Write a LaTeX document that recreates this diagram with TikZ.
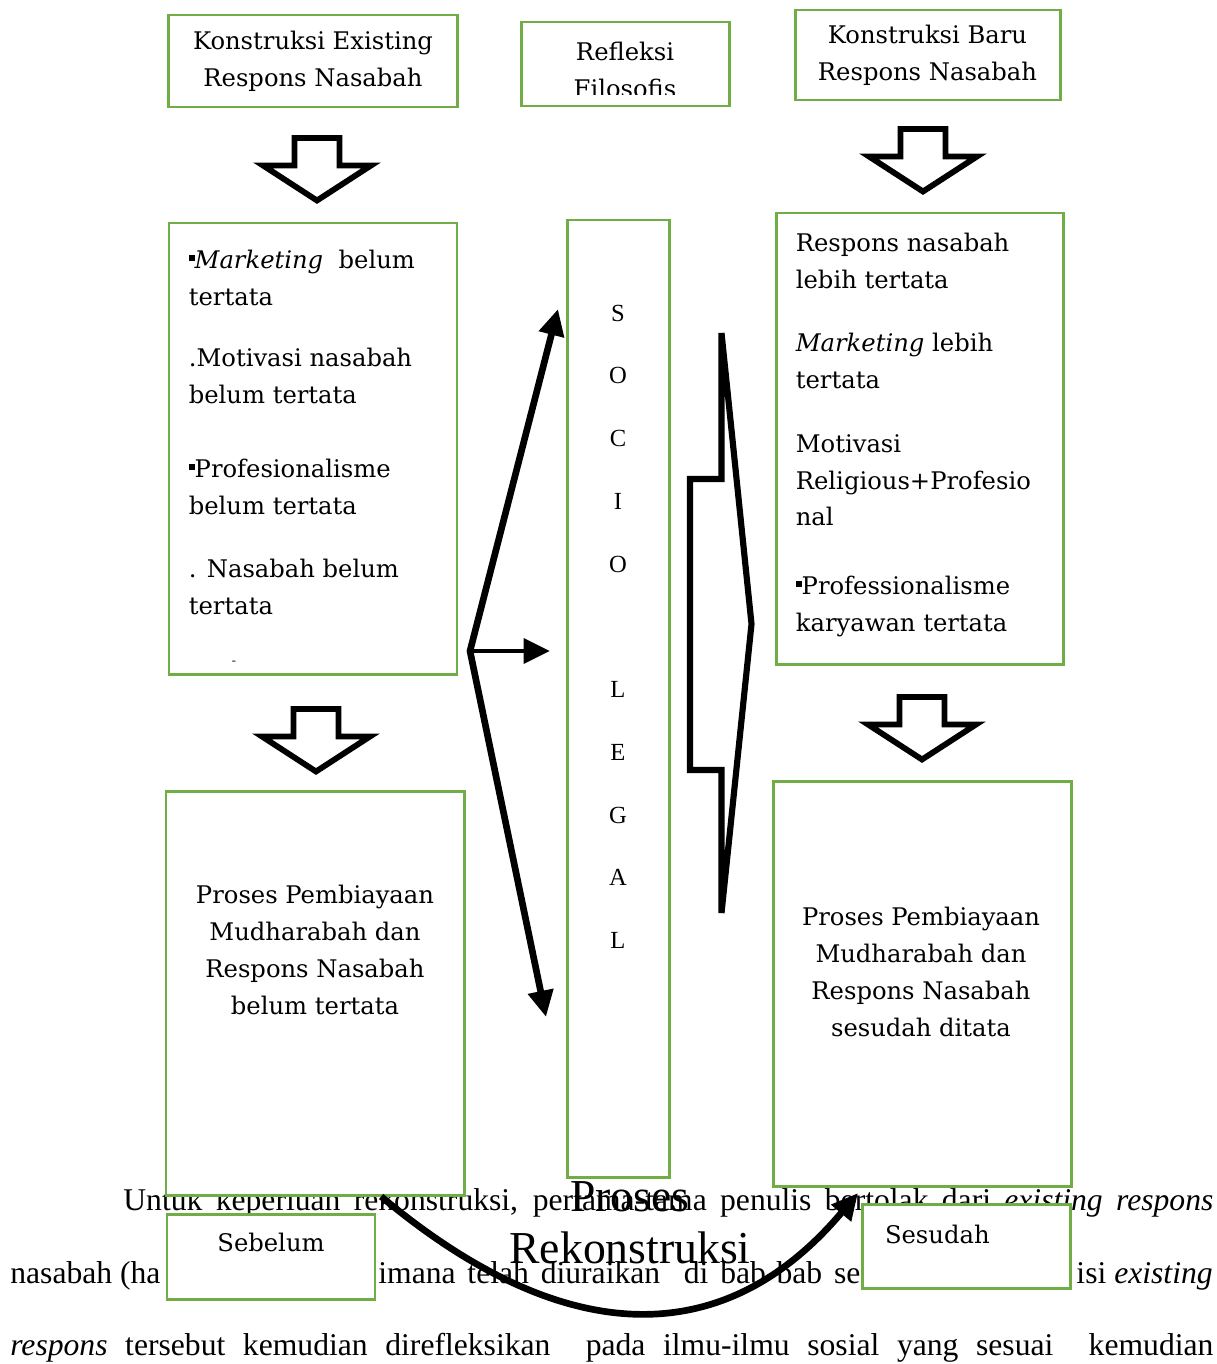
\documentclass[tikz,border=0pt]{standalone}
\usepackage{fontspec}
\setmainfont{Liberation Serif}
\newfontfamily\boxfont{DejaVu Serif}
\usepackage{xcolor}
\usetikzlibrary{arrows.meta,positioning}
\definecolor{boxgreen}{RGB}{112,173,71}
\newcommand{\sqbul}{\rule[0.3em]{0.24em}{0.26em}}

\begin{document}
\begin{tikzpicture}[
  greenbox/.style={draw=boxgreen, line width=1.7pt, fill=white, inner sep=0pt},
  boxtext/.style={font=\boxfont\fontsize{13.8}{21}\selectfont},
  paratext/.style={font=\fontsize{18}{20}\selectfont, inner sep=0pt, anchor=base west},
  fatarrow/.style={line width=3.8pt, -{Triangle[length=15pt,width=14pt]}},
  hollowdown/.pic={\draw[line width=3.3pt, line join=miter, fill=white] (-0.45,0) -- (0.45,0) -- (0.45,-0.55) -- (1.08,-0.55) -- (0,-1.25) -- (-1.08,-0.55) -- (-0.45,-0.55) -- cycle;}
]

\fill[white] (0,0) rectangle (24.34,-27.28);
\useasboundingbox (0,0) rectangle (24.34,-27.28);

% Running text of the page behind the figure
\node[paratext] (line1) at (2.46,-24.20) {\makebox[21.8cm][s]{Untuk keperluan rekonstruksi, pertama-tama penulis bertolak dari \textit{existing respons}}};
\node[paratext] (line2a) at (0.20,-25.66) {nasabah (ha};
\node[paratext] (line2b) at (7.56,-25.66) {\makebox[9.64cm][s]{imana telah diuraikan\ \ di bab-bab se}};
\node[paratext, anchor=base east] (line2c) at (24.26,-25.66) {isi \textit{existing}};
\node[paratext] (line3) at (0.20,-27.10) {\makebox[24.06cm][s]{\textit{respons} tersebut kemudian direfleksikan\ \ pada ilmu-ilmu sosial yang sesuai\ \ kemudian}};

% Label of the curved arrow
\node[font=\fontsize{26}{29.6}\selectfont, align=center, inner sep=0pt, anchor=north] (rekon) at (12.60,-23.62) {Proses\\Rekonstruksi};

% Top row
\node[greenbox, boxtext, minimum width=5.78cm, minimum height=1.84cm, align=center] (existing) at (6.26,-1.22) {Konstruksi Existing\\Respons Nasabah};
\node[greenbox, minimum width=4.16cm, minimum height=1.68cm] (refleksi) at (12.50,-1.28) {};
\begin{scope}
\clip (10.44,-0.46) rectangle (14.56,-1.90);
\node[boxtext, align=center, inner sep=0pt, anchor=north] (refleksitext) at (12.50,-0.84) {Refleksi\\Filosofis};
\end{scope}
\node[greenbox, boxtext, minimum width=5.30cm, minimum height=1.80cm, align=center] (baru) at (18.55,-1.10) {Konstruksi Baru\\Respons Nasabah};

% Hollow down arrows
\pic at (6.34,-2.76) {hollowdown};
\pic at (6.32,-14.18) {hollowdown};
\pic at (18.46,-2.58) {hollowdown};
\pic at (18.44,-13.94) {hollowdown};

% Left column: existing condition
\node[greenbox, minimum width=5.76cm, minimum height=9.02cm] (listleft) at (6.26,-8.97) {};
\node[boxtext, align=left, inner sep=0pt, below right=0.56cm and 0.42cm of listleft.north west] (listlefttext) {
    \sqbul\textit{Marketing}\ \ belum\\
    tertata\\[14pt]
    .Motivasi nasabah\\
    belum tertata\\[21pt]
    \sqbul Profesionalisme\\
    belum tertata\\[15pt]
    . Nasabah belum\\
    tertata
};
\node[font=\scriptsize, inner sep=0pt] (dash) at (4.68,-13.26) {-};

\node[greenbox, minimum width=5.96cm, minimum height=8.08cm] (lowleft) at (6.30,-19.86) {};
\node[boxtext, align=center, inner sep=0pt, anchor=north] (lowlefttext) at (6.30,-17.70) {Proses Pembiayaan\\Mudharabah dan\\Respons Nasabah\\belum tertata};

% Middle column: socio-legal reflection
\node[greenbox, minimum width=2.04cm, minimum height=19.14cm] (socio) at (12.36,-13.97) {};
\node[font=\fontsize{14}{35.7}\selectfont, align=center, inner sep=0pt, anchor=north] (sociotext) at (12.36,-6.09) {S\\O\\C\\I\\O\\[35.7pt]L\\E\\G\\A\\L};

% Right column: new construction
\node[greenbox, minimum width=5.74cm, minimum height=9.02cm] (listright) at (18.39,-8.77) {};
\node[boxtext, align=left, inner sep=0pt, below right=0.43cm and 0.42cm of listright.north west] (listrighttext) {
    Respons nasabah\\
    lebih tertata\\[15pt]
    \textit{Marketing} lebih\\
    tertata\\[15pt]
    Motivasi\\
    Religious+Profesio\\
    nal\\[18pt]
    \sqbul Professionalisme\\
    karyawan tertata
};

\node[greenbox, minimum width=5.96cm, minimum height=8.10cm] (lowright) at (18.44,-19.67) {};
\node[boxtext, align=center, inner sep=0pt, anchor=north] (lowrighttext) at (18.42,-18.14) {Proses Pembiayaan\\Mudharabah dan\\Respons Nasabah\\sesudah ditata};

% Before / after labels
\node[greenbox, boxtext, minimum width=4.16cm, inner xsep=0pt, inner ysep=0.30cm, text height=0.44cm, text depth=0.66cm, anchor=north] (sebelum) at (5.42,-24.26) {Sebelum};
\node[greenbox, boxtext, text width=3.24cm, align=left, inner xsep=0.46cm, inner ysep=0.30cm, text height=0.48cm, text depth=0.60cm, anchor=north] (sesudah) at (19.32,-24.06) {Sesudah};

% Fan of arrows into the reflection
\coordinate (fan) at (9.40,-13.02);
\coordinate (fanup) at (11.16,-6.18);
\coordinate (fanmid) at (11.00,-13.02);
\coordinate (fandown) at (10.92,-20.34);
\draw[line width=3.8pt, line join=miter, {Triangle[length=15pt,width=14pt]}-{Triangle[length=15pt,width=14pt]}] (fanup) -- (fan) -- (fandown);
\draw[fatarrow, line width=2.8pt] (fan) -- (fanmid);

% Outlined arrow towards the new construction
\draw[line width=3.5pt, line join=miter] (14.43,-6.66) -- (14.43,-9.58) -- (13.80,-9.58) -- (13.80,-15.40) -- (14.43,-15.40) -- (14.43,-18.26) -- (15.03,-12.48) -- cycle;

% Reconstruction process
\coordinate (rekend) at (17.16,-23.86);
\draw[fatarrow] (lowleft.-72) .. controls (11.34,-27.04) and (14.52,-27.00) .. (rekend);

\end{tikzpicture}
\end{document}
